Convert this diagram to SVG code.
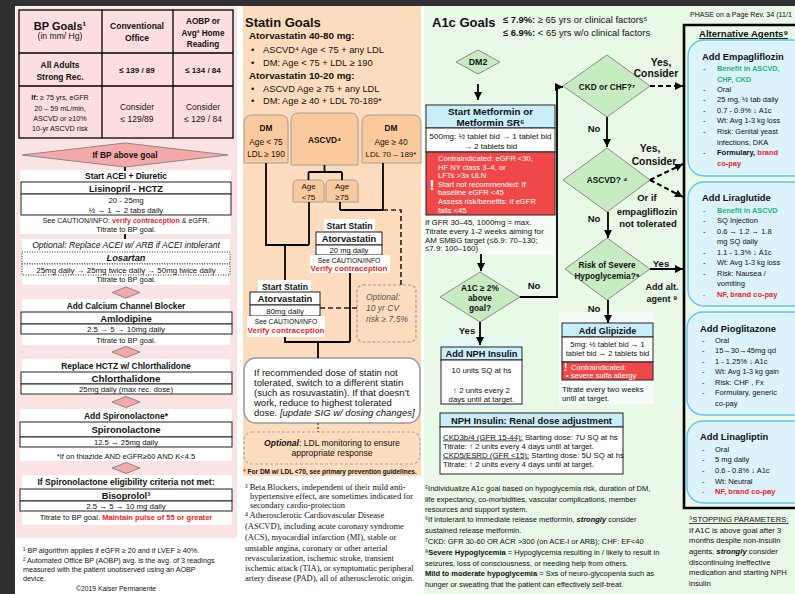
<svg xmlns="http://www.w3.org/2000/svg" width="795" height="594" viewBox="0 0 795 594">
<defs>
<style>
text{font-family:"Liberation Sans","DejaVu Sans",sans-serif;fill:#111}
.b{font-weight:bold}
.i{font-style:italic}
.m{text-anchor:middle}
.red{fill:#f01e1e}
.grn{fill:#21b978}
.wt{fill:#fff}
.gy{fill:#555}
.sf{font-family:"Liberation Serif","DejaVu Serif",serif}
.ln{stroke:#000;stroke-width:1.8;fill:none}
.dl{stroke:#222;stroke-width:1.6;stroke-dasharray:5 3;fill:none}
.dk{stroke:#000;stroke-width:2;stroke-dasharray:5 3;fill:none}
.bx{fill:#fff;stroke:#222;stroke-width:1}
.dot{fill:#fff;stroke:#333;stroke-width:1;stroke-dasharray:1 1.5}
.hd{fill:#c8eefa;stroke:#222;stroke-width:1}
.rd{fill:#ef4848;stroke:#222;stroke-width:1}
.dg{fill:#c7ecc2;stroke:#8a8a8a;stroke-width:1}
.dp{fill:#f4a8a8;stroke:#888;stroke-width:1}
.card{fill:#dcf3fb;stroke:#5ec6ec;stroke-width:1.3}
.sb{fill:#fbc99b;stroke:#a0a0a0;stroke-width:1}
</style>
<marker id="ah" viewBox="0 0 10 10" refX="10" refY="5" markerWidth="8" markerHeight="8" markerUnits="userSpaceOnUse" orient="auto"><path d="M0,0 L10,5 L0,10 z" fill="#000"/></marker>
</defs>

<g id="background">
<rect width="795" height="594" fill="#fff"/>
<rect x="16" y="7" width="221" height="531" fill="#fce3e3"/>
<rect x="243" y="6" width="178" height="470" fill="#fddcbd"/>
<rect x="424" y="6" width="371" height="588" fill="#e9f8e7"/>
<rect x="0" y="0" width="795" height="6" fill="#303030"/>
<rect x="0" y="0" width="15" height="594" fill="#303030"/>
<rect x="424" y="215" width="131" height="40" fill="#f6fdf5"/>
<rect x="441" y="337" width="82" height="70" fill="#e4f8f5"/>
<rect x="559" y="312" width="95" height="92" fill="#f5fdf8"/>
</g>

<!-- ============ BP column ============ -->
<g id="bp-goals-table">
<rect x="19" y="10" width="214" height="128" fill="#fcdede" stroke="#000" stroke-width="1.3"/>
<path d="M102,10V138M173,10V138M19,53H233M19,86H233" stroke="#000" stroke-width="1.3"/>
<text class="b m" x="60" y="30" font-size="11">BP Goals¹</text>
<text class="m" x="60" y="39" font-size="8.6">(in mm/ Hg)</text>
<text class="b m" x="137" y="29" font-size="8.5">Conventional</text>
<text class="b m" x="137" y="41" font-size="8.5">Office</text>
<text class="b m" x="203" y="24" font-size="8.2">AOBP or</text>
<text class="b m" x="203" y="36" font-size="8.2">Avg² Home</text>
<text class="b m" x="203" y="47" font-size="8.2">Reading</text>
<text class="b m" x="60" y="68" font-size="8.4">All Adults</text>
<text class="b m" x="60" y="80" font-size="8.4">Strong Rec.</text>
<text class="b m" x="137" y="73" font-size="8">≤ 139 / 89</text>
<text class="b m" x="203" y="73" font-size="8">≤ 134 / 84</text>
<text class="m" x="60" y="100" font-size="7.2"><tspan class="b">If:</tspan>  ≥ 75 yrs, eGFR</text>
<text class="m" x="60" y="111" font-size="7.2">20 – 59 mL/min,</text>
<text class="m" x="60" y="121" font-size="7.2">ASCVD or ≥10%</text>
<text class="m" x="60" y="131" font-size="7.2">10-yr ASCVD risk</text>
<text class="m" x="137" y="110" font-size="8.5">Consider</text>
<text class="m" x="137" y="122" font-size="8.5">≤ 129/89</text>
<text class="m" x="203" y="110" font-size="8.5">Consider</text>
<text class="m" x="203" y="122" font-size="8.5">≤ 129 / 84</text>
</g>

<g id="bp-above-goal">
<polygon class="dp" points="22,155 125,143 228,155 125,167"/>
<text class="b m" x="125" y="158" font-size="8.4">If BP above goal</text>
</g>

<g id="acei-diuretic">
<rect x="20" y="170" width="211" height="64" fill="#fff"/>
<text class="b m" x="126" y="179" font-size="8.4">Start ACEI + Diuretic</text>
<rect class="bx" x="21" y="182" width="210" height="12"/>
<text class="b m" x="126" y="191.5" font-size="9.2">Lisinopril - HCTZ</text>
<rect class="bx" x="21" y="194" width="210" height="21"/>
<text class="m" x="126" y="203" font-size="7.8">20 - 25mg</text>
<text class="m" x="126" y="212.5" font-size="7.8">½ → 1 → 2 tabs daily</text>
<text class="m" x="126" y="223" font-size="7.1">See CAUTION/INFO: <tspan class="red b">verify contraception</tspan> &amp; eGFR.</text>
<text class="m" x="126" y="232" font-size="7.5">Titrate to BP goal.</text>
</g>

<g id="losartan-option">
<rect x="22" y="239" width="208" height="46" fill="#fff"/>
<text class="i m" x="126" y="248" font-size="8.6">Optional: Replace ACEI w/ ARB if ACEI intolerant</text>
<rect class="dot" x="22" y="252" width="208" height="12"/>
<text class="b i m" x="126" y="261" font-size="9.2">Losartan</text>
<rect class="dot" x="22" y="264" width="208" height="11"/>
<text class="m" x="126" y="272.5" font-size="7.9">25mg daily → 25mg twice daily → 50mg twice daily</text>
<text class="m" x="126" y="282" font-size="7.5">Titrate to BP goal.</text>
</g>

<g id="step-diamond-1"><polygon class="dp" points="112,292.5 126,287 140,292.5 126,298"/></g>

<g id="amlodipine">
<rect x="22" y="299" width="208" height="46" fill="#fff"/>
<text class="b m" x="126" y="308.5" font-size="8.3">Add Calcium Channel Blocker</text>
<rect class="bx" x="21" y="312" width="211" height="12"/>
<text class="b m" x="126" y="321.5" font-size="9.5">Amlodipine</text>
<rect class="bx" x="21" y="324" width="211" height="10"/>
<text class="m" x="126" y="332" font-size="7.9">2.5 → 5 → 10mg daily</text>
<text class="m" x="126" y="342.5" font-size="7.5">Titrate to BP goal.</text>
</g>

<g id="step-diamond-2"><polygon class="dp" points="112,352 126,346.5 140,352 126,357.5"/></g>

<g id="chlorthalidone">
<rect x="22" y="359" width="208" height="36" fill="#fff"/>
<text class="b m" x="126" y="369" font-size="8.4">Replace HCTZ w/ Chlorthalidone</text>
<rect class="bx" x="21" y="372" width="211" height="12"/>
<text class="b m" x="126" y="382" font-size="9.8">Chlorthalidone</text>
<rect class="bx" x="21" y="384" width="211" height="10"/>
<text class="m" x="126" y="392" font-size="7.8">25mg daily (max rec. dose)</text>
</g>

<g id="step-diamond-3"><polygon class="dp" points="112,402 126,396.5 140,402 126,407.5"/></g>

<g id="spironolactone">
<rect x="20" y="409" width="212" height="52" fill="#fff"/>
<text class="b m" x="126" y="419" font-size="8.5">Add Spironolactone*</text>
<rect class="bx" x="20" y="422" width="212" height="15"/>
<text class="b m" x="126" y="433" font-size="9.5">Spironolactone</text>
<rect class="bx" x="20" y="437" width="212" height="10"/>
<text class="m" x="126" y="445" font-size="7.7">12.5 → 25mg daily</text>
<text class="m" x="126" y="458.5" font-size="7.6">*If on thiazide AND eGFR≥60 AND K&lt;4.5</text>
</g>

<g id="step-diamond-4"><polygon class="dp" points="112,468 126,462.5 140,468 126,473.5"/></g>

<g id="bisoprolol">
<rect x="22" y="475" width="210" height="50" fill="#fff"/>
<text class="b m" x="126" y="485" font-size="8.6">If Spironolactone eligibility criteria not met:</text>
<rect class="bx" x="20" y="489" width="212" height="12"/>
<text class="b m" x="126" y="499" font-size="9.2">Bisoprolol³</text>
<rect class="bx" x="20" y="501" width="212" height="10"/>
<text class="m" x="126" y="509" font-size="7.8">2.5 → 5 → 10 mg daily</text>
<text class="m" x="126" y="520" font-size="7.6">Titrate to BP goal. <tspan class="red b">Maintain pulse of 55 or greater</tspan></text>
</g>

<g id="bp-footnotes">
<text x="23" y="553" font-size="7.2">¹ BP algorithm applies if eGFR ≥ 20 and if LVEF ≥ 40%.</text>
<text x="23" y="563" font-size="7.2">² Automated Office BP (AOBP) avg. is the avg. of 3 readings</text>
<text x="23" y="572" font-size="7.2">measured with the patient unobserved using an AOBP</text>
<text x="23" y="581" font-size="7.2">device.</text>
<text class="m" x="116" y="591" font-size="6.8">©2019 Kaiser Permanente</text>
</g>

<!-- ============ Statin column ============ -->
<g id="statin-goals">
<text class="b" x="245" y="27" font-size="13">Statin Goals</text>
<text class="b" x="249" y="39" font-size="9.8">Atorvastatin 40-80 mg:</text>
<text x="251" y="52.5" font-size="9.3">•</text><text x="263" y="52.5" font-size="9.3">ASCVD⁴ Age &lt; 75 + any LDL</text>
<text x="251" y="65.5" font-size="9.3">•</text><text x="263" y="65.5" font-size="9.3">DM: Age &lt; 75 + LDL ≥ 190</text>
<text class="b" x="249" y="78.5" font-size="9.8">Atorvastatin 10-20 mg:</text>
<text x="251" y="91.5" font-size="9.3">•</text><text x="263" y="91.5" font-size="9.3">ASCVD Age ≥ 75 + any LDL</text>
<text x="251" y="104" font-size="9.3">•</text><text x="263" y="104" font-size="9.3">DM: Age ≥ 40 + LDL 70-189*</text>
</g>

<g id="dm-under-75">
<path class="sb" d="M244,163V123Q244,115 252,115H280Q288,115 288,123V163Z"/>
<text class="b m" x="266" y="131" font-size="8.3">DM</text>
<text class="m" x="266" y="144.5" font-size="8.3">Age &lt; 75</text>
<text class="m" x="266" y="157" font-size="8.2">LDL ≥ 190</text>
</g>
<g id="ascvd-box">
<path class="sb" d="M291,165V121Q291,113 299,113H350Q358,113 358,121V165Z"/>
<text class="b m" x="324.5" y="143" font-size="8.3">ASCVD⁴</text>
</g>
<g id="dm-over-40">
<path class="sb" d="M362,163V123Q362,115 370,115H413Q421,115 421,123V163Z"/>
<text class="b m" x="391" y="131" font-size="8.3">DM</text>
<text class="m" x="391" y="144.5" font-size="8.3">Age ≥ 40</text>
<text class="m" x="391" y="157" font-size="8">LDL 70 – 189*</text>
</g>
<g id="age-under-75">
<path class="sb" d="M293,202V185Q293,180 298,180H319Q324,180 324,185V202Z"/>
<text class="m" x="308.5" y="189" font-size="8">Age</text>
<text class="m" x="308.5" y="199.5" font-size="8">&lt;75</text>
</g>
<g id="age-over-75">
<path class="sb" d="M326,202V185Q326,180 331,180H353Q358,180 358,185V202Z"/>
<text class="m" x="342" y="189" font-size="8">Age</text>
<text class="m" x="342" y="199.5" font-size="8">≥75</text>
</g>

<g id="start-statin-20">
<rect x="324" y="219" width="51" height="12" fill="#fff"/>
<text class="b m" x="349.5" y="228.5" font-size="8.6">Start Statin</text>
<rect class="bx" x="316" y="232" width="66" height="13"/>
<text class="b m" x="349" y="242" font-size="9.4">Atorvastatin</text>
<rect class="bx" x="316" y="245" width="66" height="10"/>
<text class="m" x="349" y="253" font-size="7.6">20 mg daily</text>
<rect x="310" y="255" width="80" height="18" fill="#fff"/>
<text class="m" x="349" y="262.5" font-size="6.8">See CAUTION/INFO</text>
<text class="b m red" x="349" y="271" font-size="8">Verify contraception</text>
</g>

<g id="start-statin-80">
<rect x="258" y="280" width="53" height="12" fill="#fff"/>
<text class="b m" x="285" y="289.5" font-size="8.6">Start Statin</text>
<rect class="bx" x="250" y="292" width="70" height="13"/>
<text class="b m" x="285" y="302" font-size="9.4">Atorvastatin</text>
<rect class="bx" x="250" y="305" width="70" height="11"/>
<text class="m" x="285" y="313.5" font-size="7.8">80mg daily</text>
<rect x="247" y="316" width="78" height="21" fill="#fff"/>
<text class="m" x="286" y="324" font-size="6.8">See CAUTION/INFO</text>
<text class="b m red" x="286" y="333" font-size="8">Verify contraception</text>
</g>

<g id="optional-cv-risk">
<rect x="357" y="285" width="59" height="57" rx="6" fill="none" stroke="#999" stroke-width="1.2" stroke-dasharray="3 2"/>
<text class="i gy" x="366" y="300" font-size="8.5">Optional:</text>
<text class="i gy" x="366" y="311" font-size="8.5">10 yr CV</text>
<text class="i gy" x="366" y="321.5" font-size="8.5">risk ≥ 7.5%</text>
</g>

<g id="statin-intolerance">
<rect x="244" y="358" width="176" height="65" rx="12" fill="#fff" stroke="#999" stroke-width="1.5"/>
<text x="254" y="376" font-size="9.5">If recommended dose of statin not</text>
<text x="254" y="386" font-size="9.5">tolerated, switch to a different statin</text>
<text x="254" y="396" font-size="9.5">(such as rosuvastatin). If that doesn’t</text>
<text x="254" y="406" font-size="9.5">work, reduce to highest tolerated</text>
<text x="254" y="416" font-size="9.5">dose. <tspan class="i">[update SIG w/ dosing changes]</tspan></text>
</g>

<g id="ldl-monitoring">
<rect x="244" y="432" width="176" height="32" rx="8" fill="none" stroke="#aaa" stroke-width="1.2" stroke-dasharray="3 2"/>
<text class="m" x="332" y="446" font-size="8.6"><tspan class="b i">Optional</tspan>: LDL monitoring to ensure</text>
<text class="m" x="332" y="456" font-size="8.6">appropriate response</text>
<text class="b m" x="330" y="474" font-size="6.5"><tspan class="red">*</tspan> For DM w/ LDL &lt;70, see primary prevention guidelines.</text>
</g>

<g id="statin-footnotes">
<text class="sf" x="245" y="490" font-size="8.5">³ Beta Blockers, independent of their mild anti-</text>
<text class="sf" x="250" y="499" font-size="8.5">hypertensive effect, are sometimes indicated for</text>
<text class="sf" x="250" y="508" font-size="8.5">secondary cardio-protection</text>
<text class="sf" x="245" y="518" font-size="8.5">⁴ Atherosclerotic Cardiovascular Disease</text>
<text class="sf" x="245" y="529" font-size="8.5">(ASCVD), including acute coronary syndrome</text>
<text class="sf" x="245" y="540" font-size="8.5">(ACS), myocardial infarction (MI), stable or</text>
<text class="sf" x="245" y="551" font-size="8.5">unstable angina, coronary or other arterial</text>
<text class="sf" x="245" y="561" font-size="8.5">revascularization, ischemic stroke, transient</text>
<text class="sf" x="245" y="571" font-size="8.5">ischemic attack (TIA), or symptomatic peripheral</text>
<text class="sf" x="245" y="581" font-size="8.5">artery disease (PAD), all of atherosclerotic origin.</text>
</g>

<!-- ============ A1c column ============ -->
<g id="a1c-goals">
<text class="b" x="432" y="27" font-size="13">A1c Goals</text>
<text x="503" y="23" font-size="9.4"><tspan class="b">≤ 7.9%:</tspan> ≥ 65 yrs or clinical factors⁵</text>
<text x="503" y="36" font-size="9.4"><tspan class="b">≤ 6.9%:</tspan> &lt; 65 yrs w/o clinical factors</text>
</g>

<g id="dm2">
<polygon class="dg" points="456,62 478,50 500,62 478,74"/>
<text class="b m" x="478" y="65" font-size="8.8">DM2</text>
</g>

<g id="metformin">
<rect class="hd" x="426" y="105" width="129" height="23"/>
<text class="b m" x="490.5" y="115" font-size="9.8">Start Metformin or</text>
<text class="b m" x="490.5" y="125.5" font-size="9.8">Metformin SR⁶</text>
<rect class="bx" x="426" y="128" width="129" height="24"/>
<text class="m" x="490.5" y="139" font-size="8">500mg: ½ tablet bid → 1 tablet bid</text>
<text class="m" x="490.5" y="148.5" font-size="8">→ 2 tablets bid</text>
<rect class="rd" x="426" y="152" width="129" height="63"/>
<text class="b m wt" x="432" y="190" font-size="15">!</text>
<text class="wt" x="438" y="160.5" font-size="7.6">Contraindicated: eGFR &lt;30,</text>
<text class="wt" x="438" y="169.5" font-size="7.6">HF NY class 3–4, or</text>
<text class="wt" x="438" y="178" font-size="7.6">LFTs &gt;3x ULN</text>
<text class="wt" x="438" y="186.5" font-size="7.6">Start not recommended: If</text>
<text class="wt" x="438" y="195" font-size="7.6">baseline eGFR  &lt;45</text>
<text class="wt" x="438" y="204" font-size="7.6">Assess risk/benefits: If eGFR</text>
<text class="wt" x="438" y="213" font-size="7.6">falls &lt;45</text>
<text x="425" y="225" font-size="7.9">If GFR 30–45, 1000mg = max.</text>
<text x="425" y="234" font-size="7.9">Titrate every 1-2 weeks aiming for</text>
<text x="425" y="242.5" font-size="7.9">AM SMBG target (≤6.9: 70–130;</text>
<text x="425" y="251" font-size="7.9">≤7.9: 100–160)</text>
</g>

<g id="a1c-2pct">
<polygon class="dg" points="440,297 480,272 520,297 480,322"/>
<text class="b m" x="480" y="291" font-size="8.3">A1C ≥ 2%</text>
<text class="b m" x="480" y="300.5" font-size="8.3">above</text>
<text class="b m" x="480" y="311" font-size="8.3">goal?</text>
</g>

<g id="nph-insulin">
<rect class="hd" x="441" y="347" width="81" height="13"/>
<text class="b m" x="481.5" y="357" font-size="9.2">Add NPH Insulin</text>
<rect class="bx" x="441" y="360" width="81" height="44"/>
<text class="m" x="481.5" y="373" font-size="7.8">10 units SQ at hs</text>
<text class="m" x="481.5" y="392.5" font-size="7.8">↑ 2 units every 2</text>
<text class="m" x="481.5" y="401.5" font-size="7.8">days until at target.</text>
</g>

<g id="ckd-chf">
<polygon class="dg" points="563,86 607,55 650,86 607,117"/>
<text class="b m" x="607" y="89.5" font-size="8.3">CKD or CHF?⁷</text>
</g>

<g id="ascvd-q">
<polygon class="dg" points="563,180 607,148 650,180 607,212"/>
<text class="b m" x="607" y="183" font-size="8.3">ASCVD? ⁴</text>
</g>

<g id="hypoglycemia-q">
<polygon class="dg" points="565,269 607,238 650,269 607,300"/>
<text class="b m" x="607" y="268" font-size="8.3">Risk of Severe</text>
<text class="b m" x="607" y="278.5" font-size="8.3">Hypoglycemia?⁸</text>
</g>

<g id="glipizide">
<rect class="hd" x="562" y="323" width="91" height="14"/>
<text class="b m" x="607.5" y="333.5" font-size="9">Add Glipizide</text>
<rect class="bx" x="562" y="337" width="91" height="25"/>
<text class="m" x="607.5" y="346.5" font-size="7.6">5mg: ½ tablet bid → 1</text>
<text class="m" x="607.5" y="355.5" font-size="7.6">tablet bid → 2 tablets bid</text>
<rect class="rd" x="562" y="362" width="91" height="18"/>
<text class="b wt" x="564" y="371" font-size="10">!</text>
<text class="wt" x="571" y="369.5" font-size="7.6">Contraindicated:</text>
<text class="wt" x="566" y="378" font-size="7.6">• severe sulfa allergy</text>
<text x="562" y="392" font-size="7.8">Titrate every two weeks</text>
<text x="562" y="401" font-size="7.8">until at target.</text>
</g>

<g id="nph-renal">
<rect class="hd" x="440" y="413" width="183" height="14"/>
<text class="b m" x="531.5" y="424" font-size="9.4">NPH Insulin: Renal dose adjustment</text>
<rect class="bx" x="440" y="427" width="183" height="47"/>
<text x="443" y="439.5" font-size="7.8"><tspan text-decoration="underline">CKD3b/4 (GFR 15-44):</tspan> Starting dose: 7U SQ at hs</text>
<text x="443" y="448.5" font-size="7.8">Titrate: ↑ 2 units every 4 days until at target.</text>
<text x="443" y="457.5" font-size="7.8"><tspan text-decoration="underline">CKD5/ESRD (GFR &lt;15):</tspan> Starting dose: 5U SQ at hs</text>
<text x="443" y="466.5" font-size="7.8">Titrate: ↑ 2 units every 4 days until at target.</text>
</g>

<g id="decision-labels">
<text class="b m" x="534" y="289" font-size="9.5">No</text>
<text class="b m" x="467" y="333.5" font-size="9.5">Yes</text>
<text class="b m" x="661" y="65.5" font-size="10.3">Yes,</text>
<text class="b m" x="656" y="77" font-size="10.3">Consider</text>
<text class="b m" x="594" y="131.5" font-size="9.5">No</text>
<text class="b m" x="650" y="152" font-size="10.3">Yes,</text>
<text class="b m" x="654" y="165" font-size="10.3">Consider</text>
<text class="b m" x="647" y="200.5" font-size="9.5">Or if</text>
<text class="b m" x="647" y="215" font-size="9.5">empagliflozin</text>
<text class="b m" x="648" y="226.5" font-size="9.5">not tolerated</text>
<text class="b m" x="594" y="221.5" font-size="9.5">No</text>
<text class="b m" x="661" y="266.5" font-size="9.5">Yes</text>
<text class="b m" x="662" y="289.5" font-size="9">Add alt.</text>
<text class="b m" x="662" y="301.5" font-size="9">agent ⁹</text>
<text class="b m" x="594" y="311.5" font-size="9.5">No</text>
</g>

<g id="a1c-footnotes">
<text x="425" y="491" font-size="7.5">⁵Individualize A1c goal based on hypoglycemia risk, duration of DM,</text>
<text x="425" y="502" font-size="7.5">life expectancy, co-morbidities, vascular complications, member</text>
<text x="425" y="511.5" font-size="7.5">resources and support system.</text>
<text x="425" y="521.5" font-size="7.5">⁶If intolerant to immediate release metformin, <tspan class="b i">strongly</tspan> consider</text>
<text x="425" y="532.5" font-size="7.5">sustained release metformin.</text>
<text x="425" y="544" font-size="7.5">⁷CKD: GFR 30-60 OR ACR &gt;300 (on ACE-I or ARB); CHF: EF&lt;40</text>
<text x="425" y="555" font-size="7.5">⁸<tspan class="b">Severe Hypoglycemia</tspan> = Hypoglycemia resulting in / likely to result in</text>
<text x="425" y="565.5" font-size="7.5">seizures, loss of consciousness, or needing help from others.</text>
<text x="425" y="575.5" font-size="7.5"><tspan class="b">Mild to moderate hypoglycemia</tspan> = Sxs of neuro-glycopenia such as</text>
<text x="425" y="586.5" font-size="7.5">hunger or sweating that the patient can effectively self-treat.</text>
</g>

<!-- ============ Alternative agents ============ -->
<g id="page-revision">
<text x="690" y="17" font-size="7.1">PHASE on a Page Rev. 34 (11/1</text>
</g>

<g id="alternative-agents">
<path d="M796,25H684V508H796" fill="none" stroke="#000" stroke-width="2.6"/>
<text class="b" x="699" y="37" font-size="9.6" text-decoration="underline">Alternative Agents⁹</text>
</g>

<g id="empagliflozin">
<rect class="card" x="688" y="40" width="122" height="136" rx="16"/>
<text class="b" x="702" y="60" font-size="9.4">Add Empagliflozin</text>
<text class="grn b" x="703" y="71" font-size="7.3">-</text><text class="grn b" x="717" y="71" font-size="7.3">Benefit in ASCVD,</text>
<text class="grn b" x="717" y="82" font-size="7.3">CHF,  CKD</text>
<text x="703" y="92" font-size="7.5">-</text><text x="717" y="92" font-size="7.5">Oral</text>
<text x="703" y="102" font-size="7.5">-</text><text x="717" y="102" font-size="7.5">25 mg, ½ tab daily</text>
<text x="703" y="112.5" font-size="7.5">-</text><text x="717" y="112.5" font-size="7.5">0.7 - 0.9% ↓ A1c</text>
<text x="703" y="123" font-size="7.5">-</text><text x="717" y="123" font-size="7.4">Wt: Avg 1-3 kg  loss</text>
<text x="703" y="134" font-size="7.5">-</text><text x="717" y="134" font-size="7.3">Risk: Genital  yeast</text>
<text x="717" y="144.5" font-size="7.5">infections, DKA</text>
<text x="703" y="155" font-size="7.5">-</text><text class="b" x="717" y="155" font-size="7.5">Formulary, <tspan class="red">brand</tspan></text>
<text class="b red" x="717" y="166" font-size="7.5">co-pay</text>
</g>

<g id="liraglutide">
<rect class="card" x="688" y="182" width="122" height="124" rx="16"/>
<text class="b" x="702" y="200.5" font-size="9.4">Add Liraglutide</text>
<text class="grn b" x="703" y="213" font-size="7.3">-</text><text class="grn b" x="717" y="213" font-size="7.3">Benefit in ASCVD</text>
<text x="703" y="223" font-size="7.5">-</text><text x="717" y="223" font-size="7.5">SQ Injection</text>
<text x="703" y="233.5" font-size="7.5">-</text><text x="717" y="233.5" font-size="7.5">0.6 → 1.2 → 1.8</text>
<text x="717" y="244" font-size="7.5">mg SQ daily</text>
<text x="703" y="254.5" font-size="7.5">-</text><text x="717" y="254.5" font-size="7.5">1.1 - 1.3% ↓ A1c</text>
<text x="703" y="265" font-size="7.5">-</text><text x="717" y="265" font-size="7.4">Wt: Avg 1-3 kg  loss</text>
<text x="703" y="275.5" font-size="7.5">-</text><text x="717" y="275.5" font-size="7.5">Risk: Nausea /</text>
<text x="717" y="286" font-size="7.5">vomiting</text>
<text class="red" x="703" y="297" font-size="7.5">-</text><text class="b red" x="717" y="297" font-size="7.5">NF, brand co-pay</text>
</g>

<g id="pioglitazone">
<rect class="card" x="687" y="312" width="123" height="103" rx="16"/>
<text class="b" x="700" y="331.5" font-size="9.4">Add Pioglitazone</text>
<text x="702" y="343" font-size="7.5">-</text><text x="715" y="343" font-size="7.5">Oral</text>
<text x="702" y="353" font-size="7.5">-</text><text x="715" y="353" font-size="7.5">15→30→45mg qd</text>
<text x="702" y="363.5" font-size="7.5">-</text><text x="715" y="363.5" font-size="7.5">1 - 1.25% ↓ A1c</text>
<text x="702" y="374" font-size="7.5">-</text><text x="715" y="374" font-size="7.4">Wt: Avg 1-3 kg  gain</text>
<text x="702" y="384.5" font-size="7.5">-</text><text x="715" y="384.5" font-size="7.5">Risk:  CHF , Fx</text>
<text x="702" y="395" font-size="7.5">-</text><text x="715" y="395" font-size="7.5">Formulary, generic</text>
<text x="715" y="406" font-size="7.5">co-pay</text>
</g>

<g id="linagliptin">
<rect class="card" x="687" y="421" width="123" height="82" rx="16"/>
<text class="b" x="700" y="440" font-size="9.4">Add Linagliptin</text>
<text x="702" y="451.5" font-size="7.5">-</text><text x="715" y="451.5" font-size="7.5">Oral</text>
<text x="702" y="462" font-size="7.5">-</text><text x="715" y="462" font-size="7.5">5 mg daily</text>
<text x="702" y="473" font-size="7.5">-</text><text x="715" y="473" font-size="7.5">0.6 - 0.8% <tspan class="b">↓</tspan> A1c</text>
<text x="702" y="483.5" font-size="7.5">-</text><text x="715" y="483.5" font-size="7.5">Wt:  Neutral</text>
<text class="red" x="702" y="494" font-size="7.5">-</text><text class="b red" x="715" y="494" font-size="7.5">NF, brand co-pay</text>
</g>

<g id="stopping-parameters">
<text x="689" y="522" font-size="7.7" text-decoration="underline">⁹STOPPING PARAMETERS:</text>
<text x="689" y="533" font-size="7.7">If A1C is above goal after 3</text>
<text x="689" y="543" font-size="7.7">months despite non-insulin</text>
<text x="689" y="553.5" font-size="7.7">agents, <tspan class="b i">strongly</tspan> consider</text>
<text x="689" y="564.5" font-size="7.7">discontinuing ineffective</text>
<text x="689" y="575" font-size="7.7">medication and starting NPH</text>
<text x="689" y="585.5" font-size="7.7">insulin</text>
</g>

<!-- ============ Connectors ============ -->
<g id="connectors">
<path class="ln" d="M125,167V171 M125,234V239"/>
<path class="ln" d="M324.5,165V172 M308.5,172H342 M308.5,172V180 M342,172V180"/>
<path class="ln" d="M266,163V245H309 M309,202V245 M285,245V280"/>
<path class="ln" d="M383,163V210H340 M340,202V210"/>
<path class="ln" d="M350,273V342 M285,337V342H350 M318,342V358"/>
<path class="dl" d="M383,210H401V285"/>
<path class="dl" d="M320,308H357"/>
<path d="M318,423V432" stroke="#555" stroke-width="1.5" stroke-dasharray="2 2" fill="none"/>
<path class="ln" d="M478,84V100" marker-end="url(#ah)"/>
<path class="ln" d="M481,254V271" marker-end="url(#ah)"/>
<path class="ln" d="M520,297H557V87H563" marker-end="url(#ah)"/>
<path class="ln" d="M480,322V345" marker-end="url(#ah)"/>
<path class="ln" d="M607,117V147" marker-end="url(#ah)"/>
<path class="ln" d="M608,212V238" marker-end="url(#ah)"/>
<path class="ln" d="M608,300V323" marker-end="url(#ah)"/>
<path class="dk" d="M650,86H683" marker-end="url(#ah)"/>
<path class="dk" d="M650,180L683,164" marker-end="url(#ah)"/>
<path class="dk" d="M650,180L683,197" marker-end="url(#ah)"/>
<path class="ln" d="M650,269H683" stroke-width="2" marker-end="url(#ah)"/>
</g>
</svg>
